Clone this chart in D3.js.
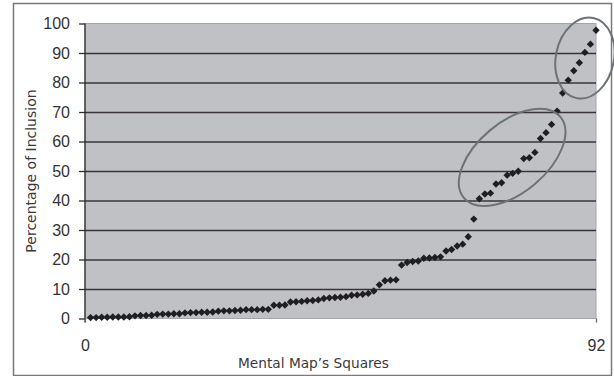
<!DOCTYPE html>
<html>
<head>
<meta charset="utf-8">
<script src="https://cdn.jsdelivr.net/npm/d3@7"></script>
<style>
  html, body { margin: 0; padding: 0; background: #fff; }
  svg { display: block; }
</style>
</head>
<body>
<svg id="chart" width="614" height="376"></svg>
<script>
// Percentage of inclusion for each mental-map square, sorted ascending
const inclusion = [
  0.3, 0.3, 0.4, 0.4, 0.5, 0.5, 0.5, 0.6, 0.9, 1.0,
  1.0, 1.1, 1.4, 1.5, 1.5, 1.6, 1.6, 1.9, 2.0, 2.0,
  2.1, 2.1, 2.2, 2.5, 2.6, 2.6, 2.7, 2.8, 3.0, 3.0,
  3.0, 3.1, 3.1, 4.5, 4.5, 4.6, 5.6, 5.7, 5.8, 6.0,
  6.1, 6.3, 6.8, 7.0, 7.1, 7.2, 7.4, 7.9, 8.0, 8.2,
  8.5, 9.3, 11.4, 12.8, 13.0, 13.1, 18.1, 19.0, 19.3, 19.5,
  20.4, 20.5, 20.7, 20.9, 22.9, 23.4, 24.6, 25.2, 27.7, 33.7,
  40.6, 42.2, 42.5, 45.6, 46.0, 48.6, 49.2, 49.9, 54.2, 54.5,
  56.3, 61.0, 63.0, 65.8, 70.3, 76.4, 80.8, 84.0, 86.7, 90.2,
  93.0, 97.7
];
const yTicks = [0, 10, 20, 30, 40, 50, 60, 70, 80, 90, 100];
const xTicks = [0, 92];
const xTitle = "Mental Map’s Squares";
const yTitle = "Percentage of Inclusion";

const svg = d3.select("#chart");
const plot = { left: 85, right: 596, top: 23.5, bottom: 318.5 };

const x = d3.scaleLinear().domain([0, 92]).range([plot.left, plot.right]);
const y = d3.scaleLinear().domain([0, 100]).range([plot.bottom, plot.top]);

// Outer frame
svg.append("rect")
  .attr("x", 13.5).attr("y", 3.5)
  .attr("width", 598).attr("height", 372)
  .attr("fill", "#fff")
  .attr("stroke", "#7a7a7a").attr("stroke-width", 1.5);

// Plot background
svg.append("rect")
  .attr("x", plot.left).attr("y", plot.top)
  .attr("width", plot.right - plot.left).attr("height", plot.bottom - plot.top)
  .attr("fill", "#c0c1c5")
  .attr("stroke", "#a4a5a9").attr("stroke-width", 1);

// Horizontal gridlines
svg.append("g")
  .attr("transform", `translate(${plot.left},0)`)
  .call(d3.axisLeft(y).tickValues(yTicks.filter(v => v > 0 && v < 100))
    .tickSize(-(plot.right - plot.left)).tickFormat(""))
  .call(g => g.select(".domain").remove())
  .call(g => g.selectAll(".tick line")
    .attr("stroke", "#383436").attr("stroke-width", 1.3));

// Y axis: ticks and labels
svg.append("g")
  .attr("transform", `translate(${plot.left},0)`)
  .call(d3.axisLeft(y).tickValues(yTicks).tickSize(6).tickPadding(9))
  .call(g => g.select(".domain").remove())
  .call(g => g.selectAll(".tick line").attr("stroke", "#2e2e2e").attr("stroke-width", 1.3))
  .call(g => g.selectAll(".tick text")
    .attr("font-family", "'Liberation Sans', Arial, sans-serif")
    .attr("font-size", 16).attr("fill", "#333"));

// Y axis line, running just past the zero line
svg.append("line")
  .attr("x1", plot.left).attr("x2", plot.left)
  .attr("y1", y(100)).attr("y2", y(0) + 4)
  .attr("stroke", "#2e2e2e").attr("stroke-width", 1.3);

// X axis: end ticks and labels
svg.append("g")
  .attr("transform", `translate(0,${plot.bottom})`)
  .call(d3.axisBottom(x).tickValues(xTicks).tickSize(4).tickPadding(17))
  .call(g => g.select(".domain").remove())
  .call(g => g.selectAll(".tick line").attr("stroke", "#6a6a6a").attr("stroke-width", 1.3))
  .call(g => g.selectAll(".tick text")
    .attr("font-family", "'Liberation Sans', Arial, sans-serif")
    .attr("font-size", 16).attr("fill", "#333"));

// Axis titles
svg.append("text")
  .attr("x", 313.5).attr("y", 368)
  .attr("text-anchor", "middle")
  .attr("font-family", "'DejaVu Sans', Verdana, sans-serif")
  .attr("font-size", 13.7).attr("fill", "#3a3a3a")
  .text(xTitle);

svg.append("text")
  .attr("transform", `translate(36,171) rotate(-90)`)
  .attr("text-anchor", "middle")
  .attr("font-family", "'DejaVu Sans', Verdana, sans-serif")
  .attr("font-size", 14).attr("fill", "#3a3a3a")
  .text(yTitle);

// Data markers (diamonds)
const diamond = r => `M0,${-r}L${r},0L0,${r}L${-r},0Z`;
svg.append("g")
  .selectAll("path")
  .data(inclusion)
  .join("path")
  .attr("transform", (d, i) => `translate(${x(i + 1)},${y(d)})`)
  .attr("d", diamond(3.7))
  .attr("fill", "#1f1f23");

// Hand-drawn style ellipses around the two steep groups of squares
// (centre in data units, radii in pixels, rotation in degrees)
const rings = [
  { cx: 76.9, cy: 54.6, rx: 63, ry: 35, rot: -40 },
  { cx: 90.0, cy: 88.3, rx: 29, ry: 41, rot: 12 }
];
svg.append("g")
  .selectAll("ellipse")
  .data(rings)
  .join("ellipse")
  .attr("transform", d => `translate(${x(d.cx)},${y(d.cy)}) rotate(${d.rot})`)
  .attr("rx", d => d.rx).attr("ry", d => d.ry)
  .attr("fill", "none")
  .attr("stroke", "#6d7276").attr("stroke-width", 2);
</script>
</body>
</html>
